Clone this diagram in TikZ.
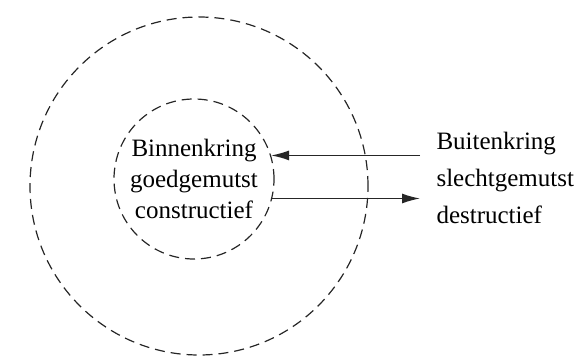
\documentclass[tikz,border=0pt]{standalone}
\usepackage{fontspec}
\setmainfont{Liberation Serif}
\usetikzlibrary{arrows.meta,positioning}

\begin{document}
\begin{tikzpicture}[x=1pt,y=-1pt]
\tikzset{kring/.style={circle, draw=black!85, dash pattern=on 10pt off 6pt, line width=1.2pt, inner sep=0pt},
	pijl/.style={-{Latex[length=18pt,width=10pt]}, line width=1.4pt, draw=black!85},
	tekst/.style={font=\fontsize{25}{31}\selectfont, align=center}}
				\useasboundingbox (0,0) rectangle (584,356);
				\node[kring, minimum size=338pt] (buiten) at (199,186) {};
				\node[kring, minimum size=160pt, tekst] (binnen) at (194,179) {Binnenkring\\goedgemutst\\constructief};
				\node[tekst, font=\fontsize{25}{37}\selectfont, align=left, anchor=west] (buitentekst) at (433,178) {Buitenkring\\slechtgemutst\\destructief};
				\coordinate (rand) at (420,0);
				\draw[pijl] (binnen.17 -| rand) -- (binnen.17);
				\draw[pijl] (binnen.-14) -- (binnen.-14 -| rand);
\end{tikzpicture}
\end{document}
